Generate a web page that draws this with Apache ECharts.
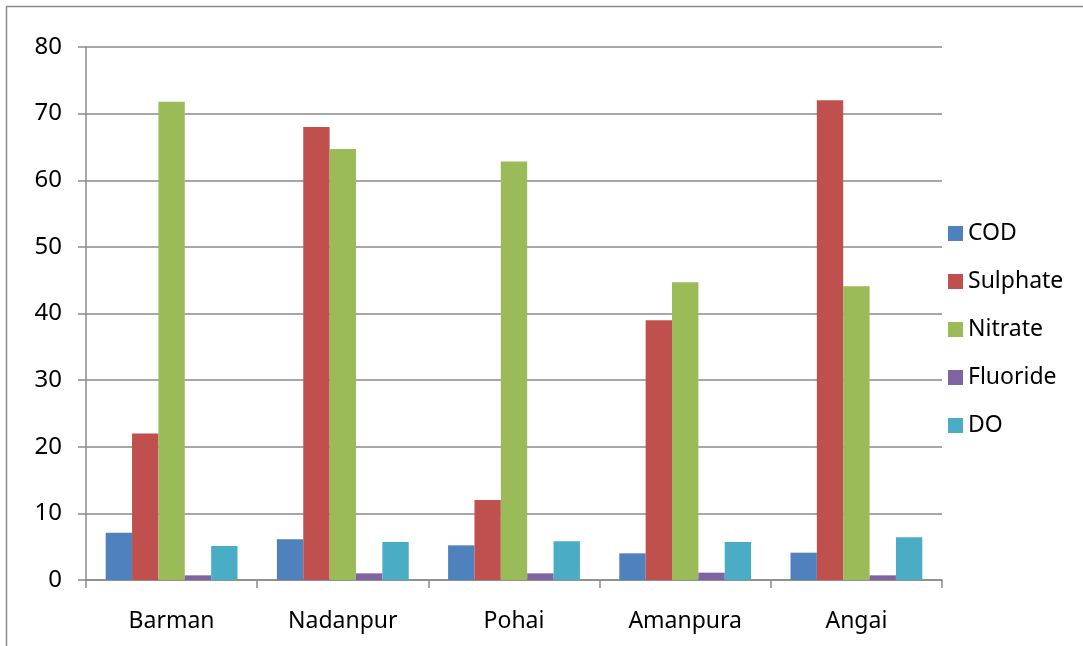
<!DOCTYPE html>
<html>
<head>
<meta charset="utf-8">
<script src="https://cdn.jsdelivr.net/npm/echarts@6/dist/echarts.min.js"></script>
<style>
  html, body { margin: 0; padding: 0; background: #fff; }
  #chart { width: 1083px; height: 646px; }
</style>
</head>
<body>
<div id="chart"></div>
<script>
// Water quality parameters by sampling site
const sites = ['Barman', 'Nadanpur', 'Pohai', 'Amanpura', 'Angai'];
const cod = [7.1, 6.1, 5.2, 4.0, 4.1];
const sulphate = [22, 68, 12, 39, 72];
const nitrate = [71.8, 64.7, 62.8, 44.7, 44.1];
const fluoride = [0.7, 1.0, 1.0, 1.1, 0.7];
const dissolvedOxygen = [5.1, 5.7, 5.8, 5.7, 6.4];

const seriesNames = ['COD', 'Sulphate', 'Nitrate', 'Fluoride', 'DO'];
const seriesData = [cod, sulphate, nitrate, fluoride, dissolvedOxygen];
const colors = ['#4F81BD', '#C0504D', '#9BBB59', '#8064A2', '#4BACC6'];

const FONT = 'Noto Sans';
const AXIS_GREY = '#8a8a8a';

const chart = echarts.init(document.getElementById('chart'), null, { renderer: 'canvas' });

chart.setOption({
  animation: false,
  backgroundColor: '#ffffff',
  color: colors,
  graphic: [{
    type: 'rect',
    silent: true,
    shape: { x: 6.5, y: 6.5, width: 2000, height: 2000 },
    style: { fill: 'none', stroke: '#8c8c8c', lineWidth: 1.5 }
  }],
  grid: { left: 86, right: 141, top: 47, bottom: 66, containLabel: false },
  legend: {
    orient: 'vertical',
    left: 943,
    top: 217,
    itemWidth: 15,
    itemHeight: 15,
    itemGap: 25,
    icon: 'rect',
    textStyle: { fontFamily: FONT, fontSize: 23, color: '#000', lineHeight: 23 },
    data: seriesNames
  },
  xAxis: {
    type: 'category',
    data: sites,
    axisLine: { lineStyle: { color: AXIS_GREY, width: 1.5 } },
    axisTick: { show: true, length: 8, alignWithLabel: false, lineStyle: { color: AXIS_GREY, width: 1.5 } },
    axisLabel: { fontFamily: FONT, fontSize: 23, color: '#000', margin: 30 }
  },
  yAxis: {
    type: 'value',
    min: 0,
    max: 80,
    interval: 10,
    axisLine: { show: true, lineStyle: { color: AXIS_GREY, width: 1.5 } },
    axisTick: { show: true, length: 8, lineStyle: { color: AXIS_GREY, width: 1.5 } },
    splitLine: { show: true, lineStyle: { color: AXIS_GREY, width: 1.5 } },
    axisLabel: { fontFamily: FONT, fontSize: 24, color: '#000', margin: 24 }
  },
  series: seriesNames.map((name, i) => ({
    name: name,
    type: 'bar',
    data: seriesData[i],
    barGap: '0%',
    barCategoryGap: '23%',
    itemStyle: { color: colors[i] }
  }))
});
</script>
</body>
</html>
